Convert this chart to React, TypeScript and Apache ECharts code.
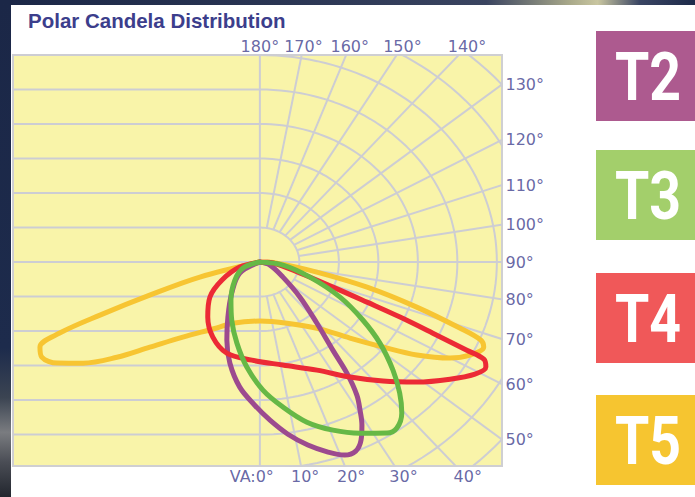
import React, { useEffect, useRef } from "react";
import * as echarts from "echarts";

// ---- Text content ----
const titleText = "Polar Candela Distribution";
const typeNames = ["T2", "T3", "T4", "T5"];
const typeBoxColors = ["#ad5a8f", "#a3cf6b", "#f05859", "#f6c530"];
const curveColors = ["#9c4a8f", "#66b846", "#ec2a35", "#f7c532"];

// ---- Photometric grid ----
const ringRadii = [1, 2, 3, 4, 5, 6, 7, 8, 9];
const radialAngles = [10, 20, 30, 40, 50, 60, 70, 80, 100, 110, 120, 130, 140, 150, 160, 170];
const topTickAngles = [180, 170, 160, 150, 140];
const rightTickAngles = [130, 120, 110, 100, 90, 80, 70, 60, 50];
const bottomTickAngles = [0, 10, 20, 30, 40];

// ---- Candela curves: [vertical angle (deg, 0 = nadir, + street side, - house side), relative candela] ----
const t2Curve = [
  [0, 0], [-57.8, 0.6], [-38.3, 1.15], [-26.9, 1.79], [-20.3, 2.41], [-14.5, 3.03], [-8.0, 3.66],
  [-1.8, 4.15], [3.2, 4.59], [8.1, 5.04], [12.9, 5.44], [17.4, 5.77], [21.0, 5.99], [23.9, 5.99],
  [26.4, 5.76], [28.7, 5.38], [30.6, 4.98], [32.5, 4.57], [34.4, 3.9], [35.9, 3.15], [39.2, 2.28],
  [45.0, 1.43], [53.2, 0.73], [71, 0.27], [0, 0],
];
const t3Curve = [
  [0, 0], [-68, 0.46], [-50.5, 0.82], [-33.7, 1.32], [-22.9, 1.83], [-13.9, 2.42], [-6.2, 3.06],
  [1.2, 3.71], [7.9, 4.24], [14.4, 4.79], [20.8, 5.21], [27.1, 5.57], [33.0, 5.91], [35.8, 5.93],
  [39.4, 5.66], [43.0, 5.19], [47.1, 4.6], [52.3, 3.84], [57.2, 3.1], [63.4, 2.27], [71.0, 1.34],
  [81.5, 0.59], [0, 0],
];
const t4Curve = [
  [0, 0], [-74, 0.53], [-61.5, 1.09], [-51.3, 1.62], [-39.6, 2.07], [-28.7, 2.48], [-17.6, 2.77],
  [-4.1, 2.85], [11.0, 3.04], [24.8, 3.45], [34.4, 4.04], [42.1, 4.65], [48.8, 5.28], [54.8, 5.89],
  [59.2, 6.34], [62.0, 6.48], [63.6, 6.33], [64.0, 5.83], [64.8, 4.84], [65.8, 3.89], [66.8, 2.95],
  [68.6, 1.99], [72.5, 1.06], [85, 0.33], [0, 0],
];
const t5Curve = [
  [0, 0], [-74.0, 1.58], [-71.0, 2.95], [-69.2, 4.33], [-67.9, 5.47], [-66.1, 6.09], [-63.5, 6.17],
  [-60.3, 5.91], [-56.8, 5.35], [-52.7, 4.55], [-48.5, 3.72], [-41.9, 2.92], [-29.7, 2.2],
  [-21.2, 1.9], [0, 1.71], [21.2, 1.9], [37.0, 2.4], [46.0, 3.17], [51.7, 3.97], [55.9, 4.8],
  [60.0, 5.56], [63.1, 5.96], [66.5, 6.18], [68.0, 6.03], [69.3, 5.41], [71.8, 4.18], [75.0, 2.81],
  [78.6, 1.47], [86, 0.43], [0, 0],
];

// axis extents (relative candela units)
const X_MIN = -6.25;
const X_MAX = 6.13;
const Y_MIN = -5.91;
const Y_MAX = 6.0;

function polar(a: number, r: number): number[] {
  const t = (a * Math.PI) / 180;
  return [r * Math.sin(t), -r * Math.cos(t)];
}

export default function App() {
  const ref = useRef<HTMLDivElement>(null);

  useEffect(() => {
    const chart = echarts.init(ref.current!, null, { renderer: "svg" });
    const gridLine = { color: "#cdcdd3", width: 2 };
    const mkGrid = (data: number[][]) => ({
      type: "line",
      data,
      symbol: "none",
      showSymbol: false,
      silent: true,
      clip: true,
      lineStyle: gridLine,
      z: 1,
    });
    const series: any[] = [];
    ringRadii.forEach((k) => {
      const pts: number[][] = [[X_MIN, -k], [0, -k]];
      for (let a = 0; a <= 180; a += 2) pts.push(polar(a, k));
      pts.push([X_MIN, k]);
      series.push(mkGrid(pts));
    });
    radialAngles.forEach((a) => series.push(mkGrid([polar(a, 1), polar(a, 14)])));
    series.push(mkGrid([[X_MIN, 0], [X_MAX, 0]]));
    series.push(mkGrid([[0, Y_MIN], [0, Y_MAX]]));

    const curves = [t5Curve, t2Curve, t4Curve, t3Curve];
    const colors = [curveColors[3], curveColors[0], curveColors[2], curveColors[1]];
    const names = [typeNames[3], typeNames[0], typeNames[2], typeNames[1]];
    curves.forEach((c, i) => {
      series.push({
        type: "line",
        name: names[i],
        data: c.map(([a, r]) => polar(a, r)),
        symbol: "none",
        smooth: 0.35,
        clip: false,
        lineStyle: { color: colors[i], width: 5, cap: "round", join: "round" },
        z: 3 + i,
      });
    });

    const labelFont = { fontSize: 16, fontFamily: "DejaVu Sans", color: "#3f418e" };
    const tickData: any[] = [];
    topTickAngles.forEach((a) => {
      const y = Y_MAX + 0.25;
      const t = (a * Math.PI) / 180;
      const s = y / -Math.cos(t);
      tickData.push({ value: [s * Math.sin(t), y], label: { position: "inside", formatter: `${a}°` } });
    });
    bottomTickAngles.forEach((a) => {
      const y = Y_MIN - 0.3;
      const t = (a * Math.PI) / 180;
      const s = y / -Math.cos(t);
      if (a === 0) {
        tickData.push({ value: [0, y], label: { position: "inside", align: "right", offset: [14, 0], formatter: "VA:0°" } });
      } else {
        tickData.push({ value: [s * Math.sin(t), y], label: { position: "inside", offset: [2, 0], formatter: `${a}°` } });
      }
    });
    rightTickAngles.forEach((a) => {
      const t = (a * Math.PI) / 180;
      const s = X_MAX / Math.sin(t);
      tickData.push({ value: [X_MAX, -s * Math.cos(t)], label: { position: "right", distance: 3, formatter: `${a}°` } });
    });
    series.push({
      type: "scatter",
      data: tickData,
      symbolSize: 1,
      clip: false,
      silent: true,
      itemStyle: { color: "rgba(0,0,0,0)" },
      label: { show: true, ...labelFont },
      z: 10,
    });

    const boxTops = [31, 150, 273, 395];
    const graphic: any[] = [
      {
        type: "text",
        x: 28,
        y: 20,
        style: {
          text: titleText,
          fill: "#3c3e8c",
          font: 'bold 20.5px "Liberation Sans", Arial, sans-serif',
          textVerticalAlign: "middle",
          verticalAlign: "middle",
        },
      },
    ];
    typeNames.forEach((n, i) => {
      graphic.push({
        type: "rect",
        shape: { x: 596, y: boxTops[i], width: 99, height: 90 },
        style: { fill: typeBoxColors[i] },
      });
      graphic.push({
        type: "text",
        x: 648,
        y: boxTops[i] + 46,
        scaleX: 0.84,
        style: {
          text: n,
          fill: "#ffffff",
          font: "bold 66px Roboto, sans-serif",
          textAlign: "center",
          align: "center",
          textVerticalAlign: "middle",
          verticalAlign: "middle",
        },
      });
    });

    chart.setOption({
      animation: false,
      backgroundColor: "transparent",
      grid: {
        left: 13,
        right: 193,
        top: 55,
        bottom: 31,
        show: true,
        backgroundColor: "#f9f4a9",
        borderColor: "#cfcfd2",
        borderWidth: 2,
      },
      xAxis: { type: "value", min: X_MIN, max: X_MAX, show: false },
      yAxis: { type: "value", min: Y_MIN, max: Y_MAX, show: false },
      series,
      graphic,
    });
    return () => chart.dispose();
  }, []);

  return (
    <div
      style={{
        position: "fixed",
        left: 0,
        top: 0,
        width: 695,
        height: 497,
        background: "#1c2a4a",
        overflow: "hidden",
      }}
    >
      <div
        style={{
          position: "absolute",
          left: 0,
          top: 0,
          width: 695,
          height: 6,
          background:
            "linear-gradient(90deg, #1b2747 0%, #2a3553 40%, #3a4460 70%, #a9a98a 82%, #c9c6a0 86%, #3a4563 92%, #1d2a4a 100%)",
        }}
      />
      <div
        style={{
          position: "absolute",
          left: 0,
          top: 0,
          width: 11,
          height: 497,
          background:
            "linear-gradient(180deg, #1b2747 0%, #1d2b4c 70%, #3b4452 80%, #7a7c80 87%, #4a4d55 93%, #22262e 100%)",
        }}
      />
      <div
        style={{ position: "absolute", left: 11, top: 5, width: 684, height: 492, background: "#ffffff" }}
      />
      <div ref={ref} style={{ position: "absolute", left: 0, top: 0, width: 695, height: 497 }} />
    </div>
  );
}
